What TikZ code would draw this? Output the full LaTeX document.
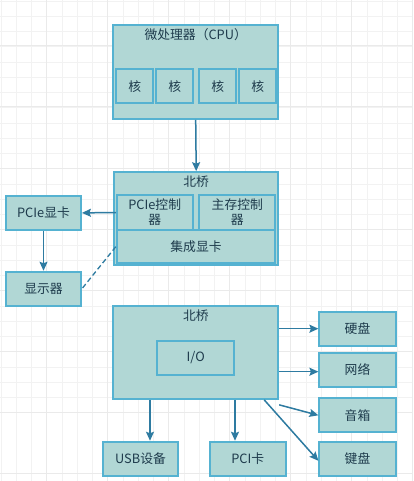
\documentclass[tikz,border=0pt]{standalone}
\usepackage{fontspec}
\setmainfont{Noto Sans CJK SC}
\usetikzlibrary{arrows.meta}
\definecolor{boxfill}{HTML}{B1D7D5}
\definecolor{boxline}{HTML}{55B2D1}
\definecolor{arrcol}{HTML}{2E7BA1}
\definecolor{txtcol}{HTML}{1E3B4C}
\definecolor{gridcol}{HTML}{F2F2F2}
\tikzset{
  box/.style={draw=boxline, fill=boxfill, line width=1.8pt, inner sep=0pt, text=txtcol, font=\fontsize{12.8}{15}\selectfont, align=center},
  ttl/.style={text=txtcol, font=\fontsize{12.8}{15}\selectfont, inner sep=0pt},
  arr/.style={draw=arrcol, line width=1.5pt, -{Stealth[length=9pt,width=8pt,inset=1.5pt]}},
  dashline/.style={draw=arrcol, line width=1.3pt, dash pattern=on 5pt off 3pt}
}
\begin{document}
\begin{tikzpicture}[x=1pt,y=-1pt]
\useasboundingbox (0,0) rectangle (413,481);
\fill[white] (0,0) rectangle (413,481);
% grid
\foreach \i in {0,...,27} {
  \draw[gridcol, line width=0.8pt] ({1+15.25*\i},0) -- ({1+15.25*\i},481);
  \draw[gridcol, line width=0.8pt] (0,{1+15.25*\i}) -- (413,{1+15.25*\i});
}
\foreach \i in {0,...,7} {
  \draw[gridcol!80!gray!60, line width=1pt] ({46+61*\i},0) -- ({46+61*\i},481);
  \draw[gridcol!80!gray!60, line width=1pt] (0,{46+61*\i}) -- (413,{46+61*\i});
}
% CPU
\node[box, minimum width=165pt, minimum height=94pt] (cpu) at (195.7,72) {};
\node[ttl] (cputitle) at (195.7,35) {微处理器（CPU）};
\node[box, minimum width=37pt, minimum height=34pt] (c1) at (134.7,86.3) {核};
\node[box, minimum width=37pt, minimum height=34pt] (c2) at (174.7,86.3) {核};
\node[box, minimum width=37pt, minimum height=34pt] (c3) at (217.8,86.3) {核};
\node[box, minimum width=37pt, minimum height=34pt] (c4) at (257.8,86.3) {核};
% North bridge
\node[box, minimum width=164pt, minimum height=93pt] (nb) at (196.2,218.6) {};
\node[ttl] (nbtitle) at (196.2,181.5) {北桥};
\node[box, minimum width=76pt, minimum height=35pt] (pcictl) at (154.7,212.5) {PCIe控制\\器};
\node[box, minimum width=76pt, minimum height=35pt] (memctl) at (237.3,212.5) {主存控制\\器};
\node[box, minimum width=158.6pt, minimum height=33.3pt] (igpu) at (196,246.7) {集成显卡};
% Left
\node[box, minimum width=75pt, minimum height=34.3pt] (pcie) at (43.5,212.9) {PCIe显卡};
\node[box, minimum width=75pt, minimum height=34.3pt] (mon) at (43.5,288.8) {显示器};
% South bridge
\node[box, minimum width=165pt, minimum height=93.3pt] (sb) at (195.8,352.3) {};
\node[ttl] (sbtitle) at (195.8,315.3) {北桥};
\node[box, minimum width=77pt, minimum height=34.3pt] (io) at (195.8,357.8) {I/O};
% Right
\node[box, minimum width=76.4pt, minimum height=34pt] (hdd) at (357.5,328.7) {硬盘};
\node[box, minimum width=76.4pt, minimum height=34.6pt] (net) at (357.5,370) {网络};
\node[box, minimum width=76.4pt, minimum height=34pt] (spk) at (357.5,415.3) {音箱};
\node[box, minimum width=76.4pt, minimum height=34.3pt] (kbd) at (357.5,458.8) {键盘};
% Bottom
\node[box, minimum width=75.6pt, minimum height=34.3pt] (usb) at (140.5,458.8) {USB设备};
\node[box, minimum width=75.6pt, minimum height=34.3pt] (pci) at (247.8,458.8) {PCI卡};
% connectors
\draw[arr] (cpu.south) -- (nb.north);
\draw[arr] (pcictl.west) -- (pcie.east);
\draw[arr] (pcie.south) -- (mon.north);
\draw[dashline] (igpu.west) -- (mon.east);
\draw[arr] (sb.east |- hdd.west) -- (hdd.west);
\draw[arr] ([yshift=-1.7pt]sb.east |- net.west) -- ([yshift=-1.7pt]net.west);
\draw[arr] ([yshift=-5pt]sb.south east) -- (spk.west);
\draw[arr] ([xshift=-15pt]sb.south east) -- ([yshift=-2pt]kbd.west);
\draw[arr] ([xshift=9.5pt]usb.north |- sb.south) -- ([xshift=9.5pt]usb.north);
\draw[arr] ([xshift=-12.8pt]pci.north |- sb.south) -- ([xshift=-12.8pt]pci.north);
\end{tikzpicture}
\end{document}
